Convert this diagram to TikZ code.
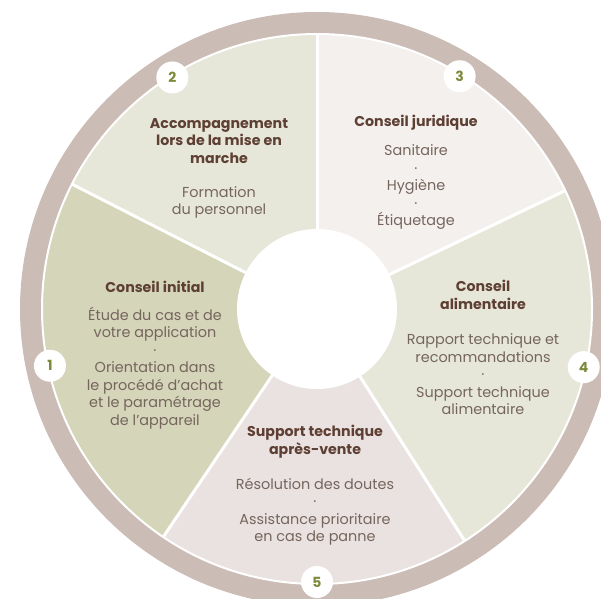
\documentclass[tikz,border=0pt]{standalone}
\usepackage{fontspec}
\setmainfont{Poppins}
\usepackage{tikz}
\usetikzlibrary{calc}

\definecolor{anneau}{HTML}{CBBCB6}
\definecolor{secA}{HTML}{D4D5B9}
\definecolor{secB}{HTML}{E6E7D9}
\definecolor{secC}{HTML}{F4F0EE}
\definecolor{secD}{HTML}{E6E7D9}
\definecolor{secE}{HTML}{EAE2E0}
\definecolor{titre}{HTML}{5E3F33}
\definecolor{corps}{HTML}{76655D}
\definecolor{numero}{HTML}{7D8A3C}

\tikzset{
	entete/.style={font=\bfseries\fontsize{14.2}{17.5}\selectfont, text=titre, align=center},
	detail/.style={font=\fontsize{14.4}{17.5}\selectfont, text=corps, align=center},
	pastille/.style={circle, fill=white, minimum size=32pt, inner sep=0pt, text=numero, font=\bfseries\fontsize{14}{14}\selectfont}
}

\begin{document}
\begin{tikzpicture}[x=1pt,y=1pt]
\useasboundingbox (0,0) rectangle (601,598);
\clip (0,0) rectangle (601,598);
\begin{scope}[shift={(317,289)}]
		\coordinate (O) at (0,0);
		\coordinate (A) at (90:275);
		\coordinate (B) at (153:275);
		\coordinate (C) at (236:275);
		\coordinate (D) at (302.5:275);
		\coordinate (E) at (25.5:275);
		\fill[secA] (O) -- (B) arc[start angle=153,end angle=236,radius=275] -- cycle;
		\fill[secB] (O) -- (A) arc[start angle=90,end angle=153,radius=275] -- cycle;
		\fill[secC] (O) -- (E) arc[start angle=25.5,end angle=90,radius=275] -- cycle;
		\fill[secD] (O) -- (D) arc[start angle=-57.5,end angle=25.5,radius=275] -- cycle;
		\fill[secE] (O) -- (C) arc[start angle=236,end angle=302.5,radius=275] -- cycle;
		\draw[white,line width=3pt] (O) -- (A);
		\draw[white,line width=3pt] (O) -- (B);
		\draw[white,line width=3pt] (O) -- (C);
		\draw[white,line width=3pt] (O) -- (D);
		\draw[white,line width=3pt] (O) -- (E);
		\fill[white] (O) circle (80);
		\draw[anneau,line width=22pt] (O) circle (286);
		\draw[white,line width=2pt] (O) circle (275);
		%\node at (O) {};
		\node[pastille] (N1) at (192:273) {1};
		\node[pastille] (N2) at (122:273) {2};
		\node[pastille] (N3) at (58.5:273) {3};
		\node[pastille] (N4) at (-12.3:273) {4};
		\node[pastille] (N5) at (-90:273) {5};
\end{scope}
\node[entete] (T1) at (155,311) {Conseil initial};
\node[detail] (P1) at (155,230) {Étude du cas et de\\votre application\\·\\Orientation dans\\le procédé d’achat\\et le paramétrage\\de l’appareil};
\node[entete] (T2) at (219,457) {Accompagnement\\lors de la mise en\\marche};
\node[detail] (P2) at (219,395.5) {Formation\\du personnel};
\node[entete] (T3) at (416,475) {Conseil juridique};
\node[detail] (P3) at (416,411) {Sanitaire\\·\\Hygiène\\·\\Étiquetage};
\node[entete] (T4) at (483,303) {Conseil\\alimentaire};
\node[detail] (P4) at (483,223.5) {Rapport technique et\\recommandations\\·\\Support technique\\alimentaire};
\node[entete] (T5) at (315,156.5) {Support technique\\après-vente};
\node[detail] (P5) at (315,86.5) {Résolution des doutes\\·\\Assistance prioritaire\\en cas de panne};
\end{tikzpicture}
\end{document}
